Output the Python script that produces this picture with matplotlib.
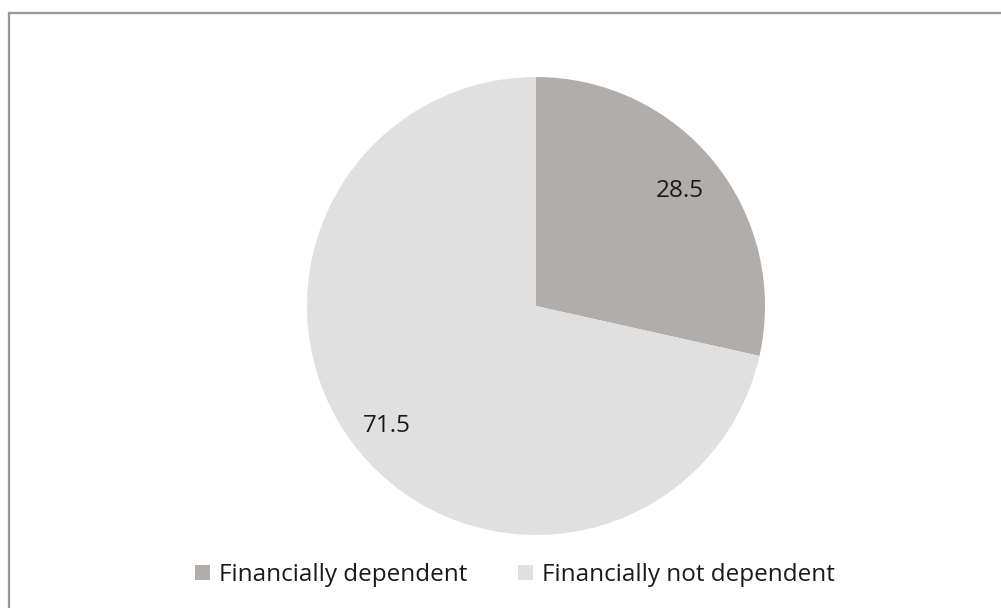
import matplotlib

matplotlib.use("Agg")
import matplotlib.pyplot as plt
from matplotlib.lines import Line2D
import numpy as np

categories = ["Financially dependent", "Financially not dependent"]
shares = [28.5, 71.5]
colors = ["#b0adaa", "#e1e0e1"]
label_dist = [0.805, 0.835]

plt.rcParams["font.family"] = ["Open Sans", "DejaVu Sans"]

W, H = 1001, 608
fig = plt.figure(figsize=(W / 100, H / 100), dpi=100)

# pie centred at (536, 306) px with radius 229 px
cx, cy, r = 536, 306, 229
ax = fig.add_axes([(cx - r) / W, (H - cy - r) / H, 2 * r / W, 2 * r / H])
wedges, _ = ax.pie(shares, colors=colors, startangle=90, counterclock=False,
                   radius=1, wedgeprops=dict(linewidth=0))
ax.set_xlim(-1, 1)
ax.set_ylim(-1, 1)
ax.axis("off")

for w, val, d in zip(wedges, shares, label_dist):
    mid = np.deg2rad((w.theta1 + w.theta2) / 2)
    ax.text(d * np.cos(mid), d * np.sin(mid), f"{val:.1f}", ha="center", va="center",
            fontsize=17.5, color="#1a1a1a")

handles = [plt.Rectangle((0, 0), 1, 1, facecolor=c, edgecolor="none") for c in colors]
fig.legend(handles, categories, loc="center", bbox_to_anchor=(515 / W, 1 - 575 / H),
           ncol=2, frameon=False, fontsize=17.5, handlelength=0.62, handleheight=0.62,
           handletextpad=0.37, columnspacing=2.05, labelcolor="#1a1a1a",
           borderpad=0, borderaxespad=0)

# outer frame, running off the right and bottom edges
frame_kw = dict(color="#9a9792", linewidth=1.6, transform=fig.transFigure)
fig.add_artist(Line2D([8.5 / W, 1.02], [1 - 12.5 / H, 1 - 12.5 / H], **frame_kw))
fig.add_artist(Line2D([8.5 / W, 8.5 / W], [-0.02, 1 - 12.5 / H], **frame_kw))

fig.savefig("out.png", dpi=100, facecolor="white")
